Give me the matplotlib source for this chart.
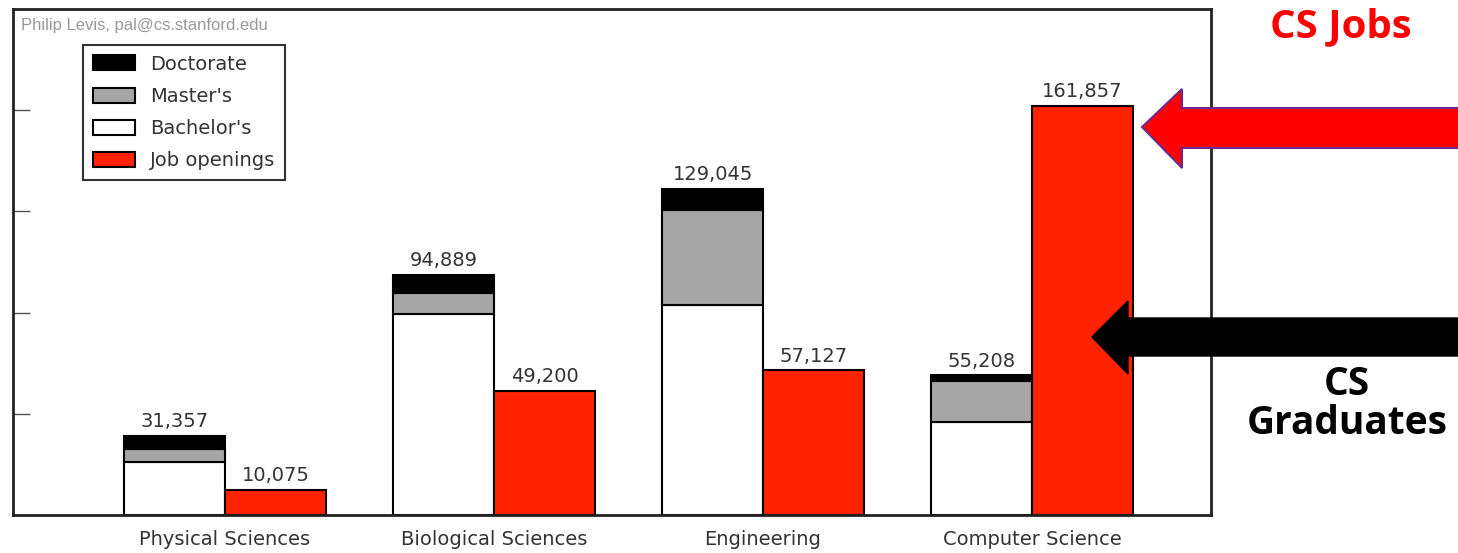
import numpy as np
import matplotlib.pyplot as plt
from matplotlib.patches import Polygon

# data
fields     = ["Physical Sciences", "Biological Sciences", "Engineering", "Computer Science"]
bachelors  = np.array([21000, 79600, 82900, 36830])
masters    = np.array([4900, 8290, 37800, 16190])
doctorates = np.array([5457, 6999, 8345, 2188])
jobs       = np.array([10075, 49200, 57127, 161857])
grad_total = [31357, 94889, 129045, 55208]

RED   = "#ff2200"
GREY  = "#a6a6a6"
LABEL = "#333333"

W, H = 1458, 553
fig = plt.figure(figsize=(W / 100, H / 100), dpi=100)
ax = fig.add_axes([13 / W, (H - 515) / H, 1198 / W, 506 / H])

x = np.arange(len(fields))
bw = 0.375
edge = dict(edgecolor="black", linewidth=1.5)

ax.bar(x - bw / 2, bachelors, bw, color="white", label="Bachelor's", **edge)
ax.bar(x - bw / 2, masters, bw, bottom=bachelors, color=GREY, label="Master's", **edge)
ax.bar(x - bw / 2, doctorates, bw, bottom=bachelors + masters, color="black",
       label="Doctorate", **edge)
ax.bar(x + bw / 2, jobs, bw, color=RED, label="Job openings", **edge)

# value labels above the bars
for i in range(len(fields)):
    ax.text(x[i] - bw / 2, grad_total[i] + 1800, f"{grad_total[i]:,}",
            ha="center", va="bottom", fontsize=14, color=LABEL)
    ax.text(x[i] + bw / 2, jobs[i] + 1800, f"{jobs[i]:,}",
            ha="center", va="bottom", fontsize=14, color=LABEL)

ax.set_xlim(-0.788, 3.665)
ax.set_ylim(0, 200000)
ax.set_xticks(x)
ax.set_xticklabels(fields, fontsize=14, color=LABEL)
ax.tick_params(axis="x", length=0, pad=11)
ax.set_yticks([40000, 80000, 120000, 160000])
ax.set_yticklabels([])
ax.tick_params(axis="y", direction="in", length=12, width=1, color="#555555")
for s in ax.spines.values():
    s.set_linewidth(2)
    s.set_color("#222222")

h, l = ax.get_legend_handles_labels()
order = [2, 1, 0, 3]
leg = ax.legend([h[k] for k in order], [l[k] for k in order],
                loc="upper left", bbox_to_anchor=(0.0584, 0.929),
                fontsize=14, fancybox=False, frameon=True, borderaxespad=0,
                handlelength=2.2, handleheight=0.8, labelspacing=0.68,
                handletextpad=0.75, borderpad=0.5)
leg.get_frame().set_edgecolor("black")
leg.get_frame().set_linewidth(1.5)
for t in leg.get_texts():
    t.set_color(LABEL)

ax.text(0.007, 0.968, "Philip Levis, pal@cs.stanford.edu", transform=ax.transAxes,
        fontsize=12, color="#999999", family="Liberation Sans", va="center")

# slide overlay: arrows and captions in pixel space
ov = fig.add_axes([0, 0, 1, 1], zorder=5)
ov.set_xlim(0, W)
ov.set_ylim(H, 0)
ov.axis("off")

red_arrow = [(1142, 127), (1182, 89), (1182, 108), (1470, 108),
             (1470, 148), (1182, 148), (1182, 168)]
ov.add_patch(Polygon(red_arrow, closed=True, facecolor="#ff0000",
                     edgecolor="#6b2a8c", linewidth=1.5))
black_arrow = [(1092, 337), (1128, 301), (1128, 318), (1470, 318),
               (1470, 356), (1128, 356), (1128, 374)]
ov.add_patch(Polygon(black_arrow, closed=True, facecolor="black",
                     edgecolor="black", linewidth=1))

ov.text(1341, 27, "CS Jobs", color="#ff0000", fontsize=29, fontweight="bold",
        family="Open Sans", ha="center", va="center")
ov.text(1347, 404, "CS\nGraduates", color="black", fontsize=28, fontweight="bold",
        family="Open Sans", ha="center", va="center", linespacing=1.0)

fig.savefig("out.png", dpi=100)
